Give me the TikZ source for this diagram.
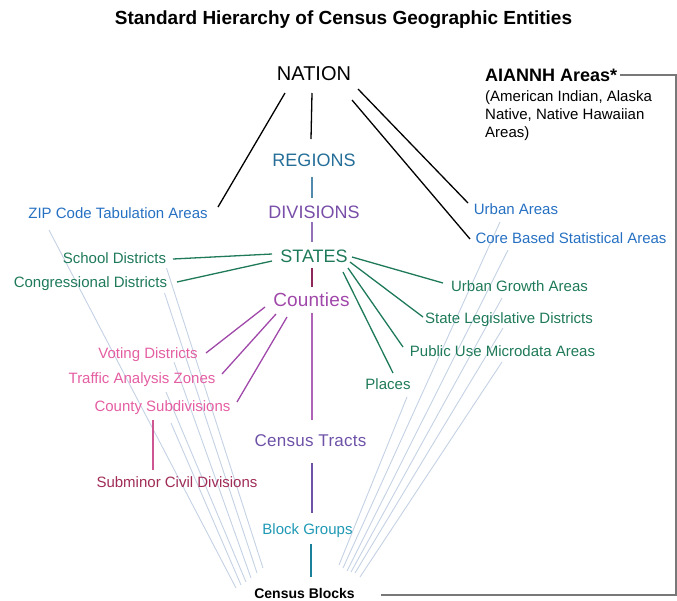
\documentclass[tikz,border=0pt]{standalone}
\usepackage{fontspec}
\setmainfont{Liberation Sans}
\usepackage{tikz}
\usetikzlibrary{backgrounds}
\definecolor{regionblue}{RGB}{36,110,152}
\definecolor{divpurple}{RGB}{120,78,168}
\definecolor{stategreen}{RGB}{30,122,88}
\definecolor{countymag}{RGB}{160,72,170}
\definecolor{tractpurple}{RGB}{110,82,168}
\definecolor{bgteal}{RGB}{30,152,180}
\definecolor{areablue}{RGB}{38,112,194}
\definecolor{votepink}{RGB}{228,94,162}
\definecolor{subred}{RGB}{160,44,86}
\definecolor{stemred}{RGB}{140,40,90}
\definecolor{faintblue}{RGB}{196,210,228}
\definecolor{rimgray}{RGB}{120,120,120}

\begin{document}
\begin{tikzpicture}[x=1pt,y=-1pt,
		lbl/.style={inner sep=0pt,anchor=base,font=\fontsize{15}{18}\selectfont},
		big/.style={inner sep=0pt,anchor=base,font=\fontsize{18}{21}\selectfont},
		tie/.style={line width=1.3pt},
		faint/.style={line width=0.9pt,faintblue}]
	\useasboundingbox (0,0) rectangle (677,600);
	\node[lbl,font=\bfseries\fontsize{19}{22}\selectfont] (title) at (343.5,24) {Standard Hierarchy of Census Geographic Entities};
	\node[big,font=\fontsize{20}{24}\selectfont] (nation) at (314,80) {NATION};
	\node[big,regionblue] (regions) at (314,166.5) {REGIONS};
	\node[big,divpurple] (divisions) at (314,218.5) {DIVISIONS};
	\node[big,stategreen] (states) at (314,262.5) {STATES};
	\node[big,countymag,font=\fontsize{19}{22}\selectfont\addfontfeature{LetterSpace=1}] (counties) at (311.5,306.5) {Counties};
	\node[big,tractpurple,font=\fontsize{17}{20}\selectfont\addfontfeature{LetterSpace=1.5}] (tracts) at (310.5,446) {Census Tracts};
	\node[lbl,bgteal] (bgroups) at (307.5,534.5) {Block Groups};
	\node[lbl,font=\bfseries\fontsize{14}{17}\selectfont] (cblocks) at (304.5,598) {Census Blocks};
	\node[lbl,areablue] (zip) at (118,218.5) {ZIP Code Tabulation Areas};
	\node[lbl,stategreen] (school) at (114.5,263.5) {School Districts};
	\node[lbl,stategreen] (congress) at (90.5,287) {Congressional Districts};
	\node[lbl,votepink] (voting) at (148,358.5) {Voting Districts};
	\node[lbl,votepink] (traffic) at (142,383.5) {Traffic Analysis Zones};
	\node[lbl,votepink] (countysub) at (162.5,411) {County Subdivisions};
	\node[lbl,subred] (subminor) at (177,487.5) {Subminor Civil Divisions};
	\node[lbl,areablue] (urban) at (516,214) {Urban Areas};
	\node[lbl,areablue] (cbsa) at (571,243.5) {Core Based Statistical Areas};
	\node[lbl,stategreen] (ugrowth) at (519.5,291.5) {Urban Growth Areas};
	\node[lbl,stategreen] (stateleg) at (509,323.5) {State Legislative Districts};
	\node[lbl,stategreen] (puma) at (502.5,356) {Public Use Microdata Areas};
	\node[lbl,stategreen] (places) at (388,389.5) {Places};
	\node[lbl,anchor=base west,font=\bfseries\fontsize{18}{21}\selectfont] (aiannh) at (485,81) {AIANNH Areas*};
	\node[lbl,anchor=north west,align=left] (aiannote) at (485,90) {(American Indian, Alaska\\Native, Native Hawaiian\\Areas)};
	\coordinate (rim) at (676,300);

	\begin{scope}[on background layer]
		\foreach \src/\sx/\sy/\ex/\ey in {zip/-69/11.5/-68.5/-10, countysub/8.5/12/-63.5/-13, traffic/24/8.5/-58.5/-16, voting/26/3.5/-53.5/-20, congress/74/6/-47.5/-25, school/52/4.5/-41.5/-30, places/19/7.5/34.5/-33, urban/-16/8/38.5/-30, cbsa/-63/6.5/42.5/-27, ugrowth/-17.5/6.5/46.5/-26, stateleg/-6/4.5/50.5/-25, puma/-0.5/6/55.5/-21}
			\draw[faint] ([shift={(\sx,\sy)}]\src.base) -- ([shift={(\ex,\ey)}]cblocks.base);
	\end{scope}

	\draw[tie] ([shift={(-29,13)}]nation.base) -- ([shift={(100,-11.5)}]zip.base);
	\draw[tie] ([shift={(-2,13)}]nation.base) -- ([shift={(-3,-27.5)}]regions.base);
	\draw[tie] ([shift={(44,9)}]nation.base) -- ([shift={(-48,-11)}]urban.base);
	\draw[tie] ([shift={(38,20)}]nation.base) -- ([shift={(-101,-4.5)}]cbsa.base);
	\draw[tie,regionblue!80] ([shift={(-2,10.5)}]regions.base) -- ([shift={(-2,-20.5)}]divisions.base);
	\draw[tie,divpurple!80] ([shift={(-2,3.5)}]divisions.base) -- ([shift={(-2,-20.5)}]states.base);
	\draw[tie,stemred] ([shift={(-2,5.5)}]states.base) -- ([shift={(0.5,-19.5)}]counties.base);
	\draw[tie,stategreen] ([shift={(-42,-8.5)}]states.base) -- ([shift={(58.5,-4.5)}]school.base);
	\draw[tie,stategreen] ([shift={(-42,-1.5)}]states.base) -- ([shift={(86.5,-5)}]congress.base);
	\draw[tie,stategreen] ([shift={(38,-5.5)}]states.base) -- ([shift={(-76.5,-8.5)}]ugrowth.base);
	\draw[tie,stategreen] ([shift={(36,-0.5)}]states.base) -- ([shift={(-86,-6.5)}]stateleg.base);
	\draw[tie,stategreen] ([shift={(34,5.5)}]states.base) -- ([shift={(-99.5,-9)}]puma.base);
	\draw[tie,stategreen] ([shift={(29,9.5)}]states.base) -- ([shift={(5,-16.5)}]places.base);
	\draw[tie,countymag] ([shift={(-46.5,0.5)}]counties.base) -- ([shift={(58,-5.5)}]voting.base);
	\draw[tie,countymag] ([shift={(-35.5,7.5)}]counties.base) -- ([shift={(80,-9.5)}]traffic.base);
	\draw[tie,countymag] ([shift={(-24.5,10.5)}]counties.base) -- ([shift={(74.5,-9)}]countysub.base);
	\draw[tie,countymag!85] ([shift={(0.5,6.5)}]counties.base) -- ([shift={(1.5,-26)}]tracts.base);
	\draw[tie,votepink!90!black] ([shift={(-9.5,9)}]countysub.base) -- ([shift={(-24,-17.5)}]subminor.base);
	\draw[tie,tractpurple] ([shift={(1.5,17)}]tracts.base) -- ([shift={(4.5,-21.5)}]bgroups.base);
	\draw[tie,bgteal!85!black] ([shift={(3.5,9.5)}]bgroups.base) -- ([shift={(6.5,-21)}]cblocks.base);
	\draw[tie,rimgray] ([xshift=3pt]aiannh.east) -| (rim) |- ([shift={(26,2)}]cblocks.east);
\end{tikzpicture}
\end{document}
